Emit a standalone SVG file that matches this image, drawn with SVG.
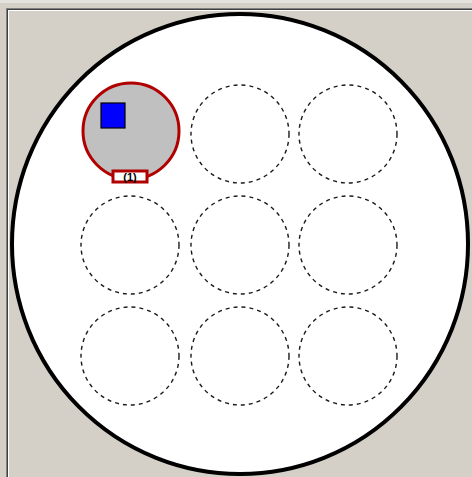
<svg xmlns="http://www.w3.org/2000/svg" width="472" height="477" viewBox="0 0 472 477">
<style>
.slot{fill:none;stroke:#1a1a1a;stroke-width:1.4;stroke-dasharray:4 4}
</style>
<rect x="0" y="0" width="472" height="477" fill="#D4D0C8"/>
<rect x="0" y="0" width="472" height="3" fill="#E4E2DC"/>
<line x1="6" y1="8.5" x2="472" y2="8.5" stroke="#808080" stroke-width="1"/>
<line x1="7" y1="9.5" x2="472" y2="9.5" stroke="#404040" stroke-width="1"/>
<line x1="6.5" y1="8" x2="6.5" y2="477" stroke="#808080" stroke-width="1"/>
<line x1="7.5" y1="9" x2="7.5" y2="477" stroke="#404040" stroke-width="1"/>
<line x1="8" y1="10.5" x2="472" y2="10.5" stroke="#FFFFFF" stroke-width="1"/>
<line x1="8.5" y1="10" x2="8.5" y2="477" stroke="#FFFFFF" stroke-width="1"/>
<g id="plate">
<ellipse cx="240" cy="244" rx="228" ry="230" fill="#FFFFFF" stroke="#000" stroke-width="4"/>
</g>
<g id="slot1">
<circle cx="131" cy="131" r="48" fill="#C0C0C0" stroke="#B00000" stroke-width="3"/>
<rect x="101" y="103" width="24" height="25" fill="#0000FF" stroke="#000" stroke-width="1.2"/>
<rect x="113" y="171" width="34" height="11" fill="#FFFFFF" stroke="#B00000" stroke-width="3"/>
<text x="130" y="181" font-family="Liberation Sans, sans-serif" font-size="11" font-weight="bold" text-anchor="middle" fill="#000">(1)</text>
</g>
<g id="slot2"><circle class="slot" cx="240" cy="134" r="49"/></g>
<g id="slot3"><circle class="slot" cx="348" cy="134" r="49"/></g>
<g id="slot4"><circle class="slot" cx="130" cy="245" r="49"/></g>
<g id="slot5"><circle class="slot" cx="240" cy="245" r="49"/></g>
<g id="slot6"><circle class="slot" cx="348" cy="245" r="49"/></g>
<g id="slot7"><circle class="slot" cx="130" cy="356" r="49"/></g>
<g id="slot8"><circle class="slot" cx="240" cy="356" r="49"/></g>
<g id="slot9"><circle class="slot" cx="348" cy="356" r="49"/></g>
<g id="connectors"></g>
</svg>
